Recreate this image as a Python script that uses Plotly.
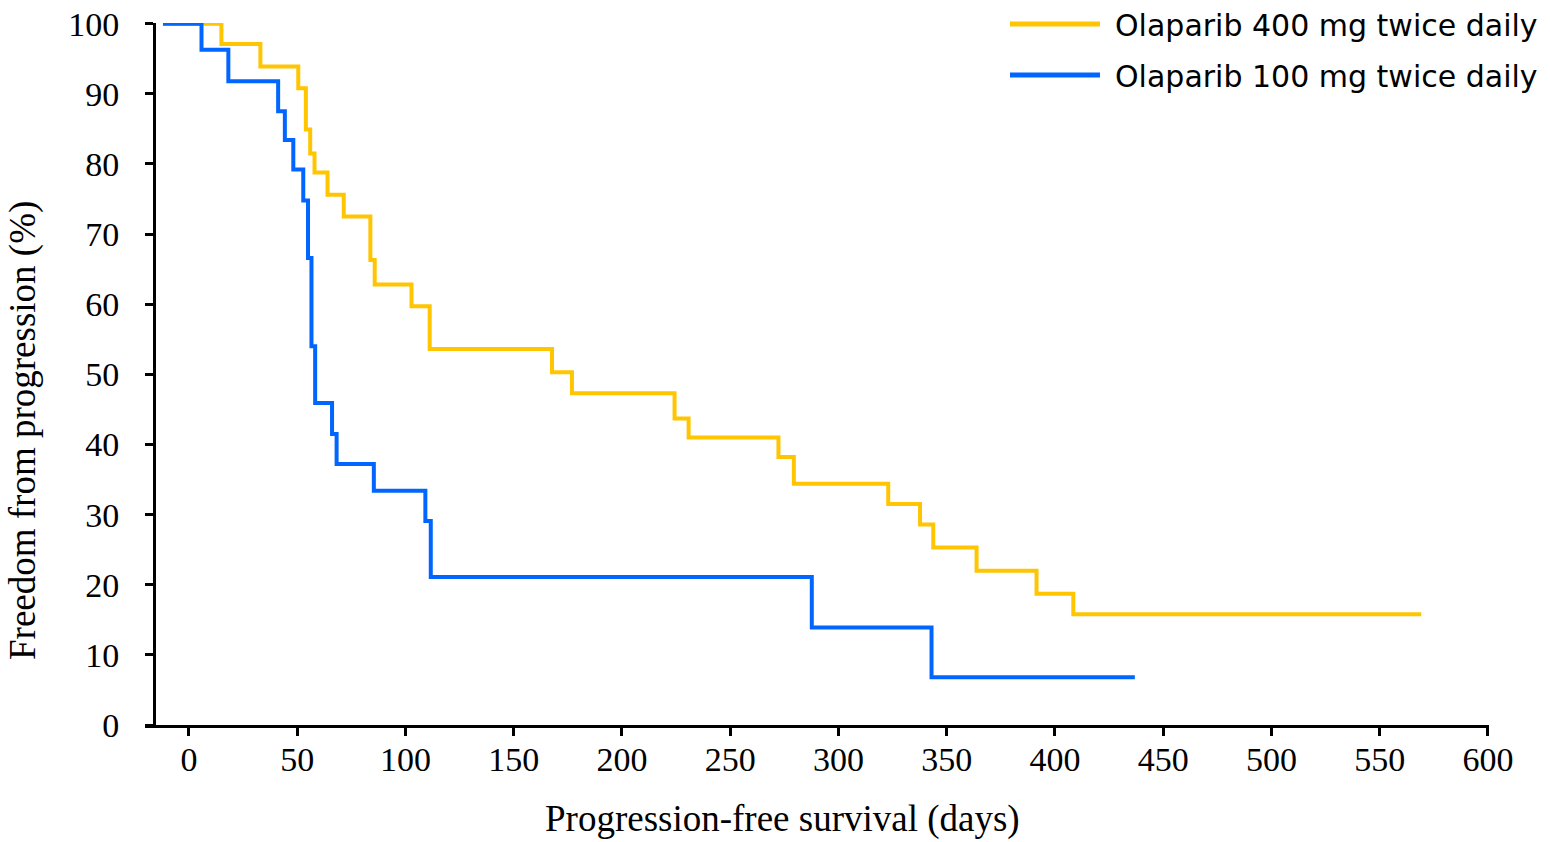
import plotly.graph_objects as go

# ---- data ----
days_400 = [-12, 15, 33, 50.5, 54, 56, 58, 64, 71.5, 83.8, 85.8, 102.8, 111.2, 167.7, 176.9,
            224.3, 230.8, 272.3, 279.4, 323, 337.7, 343.8, 363.8, 391.5, 408.5, 569.2]
surv_400 = [100, 97.1, 93.9, 90.8, 84.9, 81.5, 78.8, 75.6, 72.5, 66.3, 62.8, 59.7, 53.6, 50.3, 47.3,
            43.7, 41.0, 38.2, 34.4, 31.5, 28.6, 25.3, 22.0, 18.7, 15.8, 15.8]

days_100 = [-12, 5.8, 18.2, 41.2, 44.3, 48.2, 52.8, 55, 56.6, 58.3, 66.1, 68.2, 85.4, 109.2,
            111.7, 287.7, 343, 436.9]
surv_100 = [100, 96.3, 91.8, 87.5, 83.4, 79.2, 74.8, 66.6, 54.0, 45.9, 41.5, 37.2, 33.4, 29.1,
            21.1, 13.9, 6.8, 6.8]

series_names = ["Olaparib 400 mg twice daily", "Olaparib 100 mg twice daily"]
x_ticks = [0, 50, 100, 150, 200, 250, 300, 350, 400, 450, 500, 550, 600]
y_ticks = [0, 10, 20, 30, 40, 50, 60, 70, 80, 90, 100]

YELLOW = "rgb(255,197,0)"
BLUE = "rgb(0,102,255)"

W, H = 1550, 842
# target plot area in window pixels: left 145, right 1489, top 23, bottom 725
ML, MT = 145, 23
MR = W - 1489
MB = H - 725
pw = W - ML - MR
ph = H - MT - MB

def px_x(p):  # window px -> paper fraction
    return (p - ML) / pw

def px_y(p):
    return (H - MB - p) / ph

fig = go.Figure()
fig.add_trace(go.Scatter(x=days_400, y=surv_400, mode="lines", line_shape="hv",
                         line=dict(color=YELLOW, width=4), name=series_names[0], showlegend=False))
fig.add_trace(go.Scatter(x=days_100, y=surv_100, mode="lines", line_shape="hv",
                         line=dict(color=BLUE, width=4), name=series_names[1], showlegend=False))

tickfont = dict(family="Liberation Serif", size=34, color="black")

fig.update_layout(
    width=W, height=H,
    margin=dict(l=ML, r=MR, t=MT, b=MB, autoexpand=False),
    plot_bgcolor="white", paper_bgcolor="white",
    xaxis=dict(range=[-20.3, 600.5], tickvals=x_ticks, ticks="outside", ticklen=8, tickwidth=3,
               tickcolor="black", showline=True, linecolor="black", linewidth=3,
               showgrid=False, zeroline=False, tickfont=tickfont, ticklabelstandoff=-6,
               ticklabeloverflow="allow", automargin=False),
    yaxis=dict(range=[0, 100.1], tickvals=y_ticks, ticks="outside", ticklen=8, tickwidth=3,
               tickcolor="black", showline=True, linecolor="black", linewidth=3,
               showgrid=False, zeroline=False, tickfont=tickfont,
               anchor="free", position=px_x(154), ticklabelstandoff=19,
               ticklabeloverflow="allow", automargin=False),
)

# axis titles
fig.add_annotation(text="Freedom from progression (%)", xref="paper", yref="paper",
                   x=px_x(23), y=px_y(431), textangle=-90, showarrow=False,
                   xanchor="center", yanchor="middle",
                   font=dict(family="Liberation Serif", size=37, color="black"))
fig.add_annotation(text="Progression-free survival (days)", xref="paper", yref="paper",
                   x=px_x(782), y=px_y(819), showarrow=False,
                   xanchor="center", yanchor="middle",
                   font=dict(family="Liberation Serif", size=37, color="black"))

# legend (manual)
for name, col, yp in [(series_names[0], YELLOW, 24), (series_names[1], BLUE, 75)]:
    fig.add_shape(type="line", xref="paper", yref="paper",
                  x0=px_x(1010), x1=px_x(1100), y0=px_y(yp), y1=px_y(yp),
                  line=dict(color=col, width=5))
    fig.add_annotation(text=name, xref="paper", yref="paper", x=px_x(1113), y=px_y(yp + 2),
                       showarrow=False, xanchor="left", yanchor="middle",
                       font=dict(family="DejaVu Sans", size=30, color="black"))

fig.write_html("out.html", config={"displayModeBar": False},
               post_script="document.body.style.margin='0';document.body.style.overflow='hidden';")
